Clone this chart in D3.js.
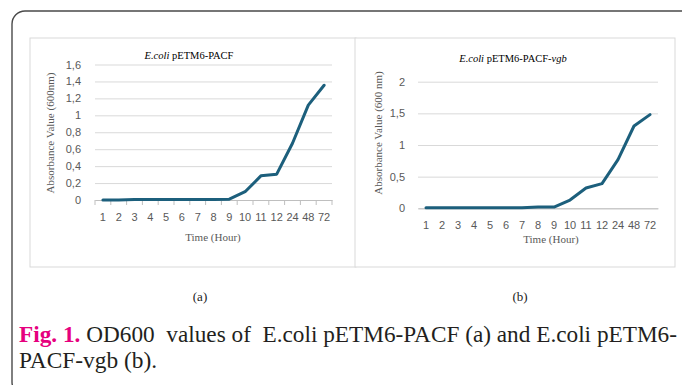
<!DOCTYPE html>
<html>
<head>
<meta charset="utf-8">
<script src="https://cdn.jsdelivr.net/npm/d3@7"></script>
<style>
  body { margin: 0; background: #fff; }
  svg { display: block; }
  text.tick-label { font-family: "Liberation Sans", Arial, sans-serif; font-size: 11px; fill: #595959; }
</style>
</head>
<body>
<svg id="fig"></svg>
<script>
// categories on the x axis (hours)
const hours = ["1", "2", "3", "4", "5", "6", "7", "8", "9", "10", "11", "12", "24", "48", "72"];

// OD600 readings
const odPACF = [0, 0, 0.005, 0.005, 0.005, 0.005, 0.005, 0.005, 0.01, 0.098, 0.285, 0.305, 0.67, 1.12, 1.355];
const odPACFvgb = [0.01, 0.01, 0.01, 0.01, 0.01, 0.01, 0.01, 0.02, 0.02, 0.13, 0.32, 0.39, 0.77, 1.30, 1.48];

// y tick values
const ticksA = [0, 0.2, 0.4, 0.6, 0.8, 1, 1.2, 1.4, 1.6];
const ticksB = [0, 0.5, 1, 1.5, 2];

const W = 682, H = 385;
const SERIF = "'Liberation Serif'";
const svg = d3.select("#fig").attr("width", W).attr("height", H);

// outer rounded frame
svg.append("rect")
  .attr("x", 12).attr("y", 11)
  .attr("width", 700).attr("height", 384)
  .attr("rx", 13)
  .attr("fill", "none")
  .attr("stroke", "#4a4a4a")
  .attr("stroke-width", 1.4);

const commaFmt = d => String(d).replace(".", ",");

function drawChart(cfg, values, ticks) {
  // panel
  svg.append("rect")
    .attr("x", cfg.panel[0]).attr("y", cfg.panel[1])
    .attr("width", cfg.panel[2]).attr("height", cfg.panel[3])
    .attr("fill", "#fff")
    .attr("stroke", "#d9d9d9")
    .attr("stroke-width", 1);

  const x = d3.scaleBand().domain(hours).range([cfg.x0, cfg.x1]).padding(0);
  const y = d3.scaleLinear().domain([0, ticks[ticks.length - 1]]).range([cfg.y0, cfg.y1]);

  const g = svg.append("g");

  // gridlines
  g.append("g")
    .attr("transform", `translate(${cfg.x0},0)`)
    .call(d3.axisLeft(y).tickValues(ticks).tickSize(-(cfg.x1 - cfg.x0)).tickFormat(""))
    .call(s => s.select(".domain").remove())
    .call(s => s.selectAll("line").attr("stroke", "#d9d9d9").attr("stroke-width", 1));

  // y labels
  g.append("g")
    .attr("transform", `translate(${cfg.x0},0)`)
    .call(d3.axisLeft(y).tickValues(ticks).tickSize(0).tickPadding(cfg.yPad).tickFormat(commaFmt))
    .call(s => s.select(".domain").remove())
    .call(s => s.selectAll("text").attr("class", "tick-label").attr("fill", null));

  // x axis
  const xAx = g.append("g")
    .attr("transform", `translate(0,${cfg.y0})`)
    .call(d3.axisBottom(x).tickSize(0).tickPadding(cfg.xPad).tickSizeOuter(0));
  xAx.select(".domain").attr("stroke", "#bfbfbf");
  xAx.selectAll("text").attr("class", "tick-label").attr("fill", null);

  if (cfg.boundaryTicks) {
    const bounds = hours.map(h => x(h)).concat([x(hours[hours.length - 1]) + x.bandwidth()]);
    g.selectAll(".btick").data(bounds).join("line")
      .attr("x1", d => d).attr("x2", d => d)
      .attr("y1", cfg.y0).attr("y2", cfg.y0 + 5)
      .attr("stroke", "#bfbfbf");
  }

  // line
  const line = d3.line()
    .x((d, i) => x(hours[i]) + x.bandwidth() / 2)
    .y(d => y(d));
  g.append("path")
    .datum(values)
    .attr("d", line)
    .attr("fill", "none")
    .attr("stroke", "#1c5f7c")
    .attr("stroke-width", 3)
    .attr("stroke-linejoin", "round")
    .attr("stroke-linecap", "round");

  // title
  const t = g.append("text")
    .style("font-family", SERIF)
    .attr("x", cfg.titleX).attr("y", cfg.titleY)
    .attr("text-anchor", "middle")
    .attr("font-size", 10.5).attr("fill", "#000");
  cfg.title.forEach(p => t.append("tspan").attr("font-style", p[1] ? "italic" : "normal").text(p[0]));

  // axis titles
  g.append("text")
    .style("font-family", SERIF)
    .attr("x", cfg.xtX).attr("y", cfg.xtY)
    .attr("text-anchor", "middle")
    .attr("font-size", 11).attr("fill", "#595959")
    .text("Time (Hour)");
  g.append("text")
    .style("font-family", SERIF)
    .attr("transform", `translate(${cfg.ytX},${cfg.ytY}) rotate(-90)`)
    .attr("text-anchor", "middle")
    .attr("font-size", 11).attr("fill", "#595959")
    .text(cfg.yTitle);
}

drawChart({
  panel: [30, 38, 326, 229],
  x0: 95, x1: 332, y0: 200, y1: 64.5,
  yPad: 14, xPad: 13, boundaryTicks: true,
  title: [["E.coli", true], [" pETM6-PACF", false]],
  titleX: 189, titleY: 59,
  xtX: 213, xtY: 241,
  ytX: 54, ytY: 133,
  yTitle: "Absorbance Value (600nm)"
}, odPACF, ticksA);

drawChart({
  panel: [355, 38, 320, 229],
  x0: 418, x1: 658, y0: 208.3, y1: 81.7,
  yPad: 13, xPad: 13, boundaryTicks: false,
  title: [["E.coli", true], [" pETM6-PACF-", false], ["vgb", true]],
  titleX: 513, titleY: 62,
  xtX: 551, xtY: 243,
  ytX: 382, ytY: 133,
  yTitle: "Absorbance Value (600 nm)"
}, odPACFvgb, ticksB);

// sub-figure labels
svg.append("text").style("font-family", SERIF).attr("x", 200).attr("y", 301)
  .attr("text-anchor", "middle").attr("font-size", 13).attr("fill", "#222").text("(a)");
svg.append("text").style("font-family", SERIF).attr("x", 520).attr("y", 301)
  .attr("text-anchor", "middle").attr("font-size", 13).attr("fill", "#222").text("(b)");

// caption
const cap1 = svg.append("text").style("font-family", SERIF).style("white-space", "pre")
  .attr("x", 19).attr("y", 342)
  .attr("font-size", 23.5).attr("fill", "#231f20")
  .attr("textLength", 658).attr("lengthAdjust", "spacingAndGlyphs");
cap1.append("tspan").attr("fill", "#e6007e").attr("font-weight", "bold").text("Fig. 1.");
cap1.append("tspan").text(" OD600  values of  E.coli pETM6-PACF (a) and E.coli pETM6-");
svg.append("text").style("font-family", SERIF)
  .attr("x", 19).attr("y", 368)
  .attr("font-size", 23.5).attr("fill", "#231f20")
  .attr("textLength", 138).attr("lengthAdjust", "spacingAndGlyphs")
  .text("PACF-vgb (b).");
</script>
</body>
</html>
